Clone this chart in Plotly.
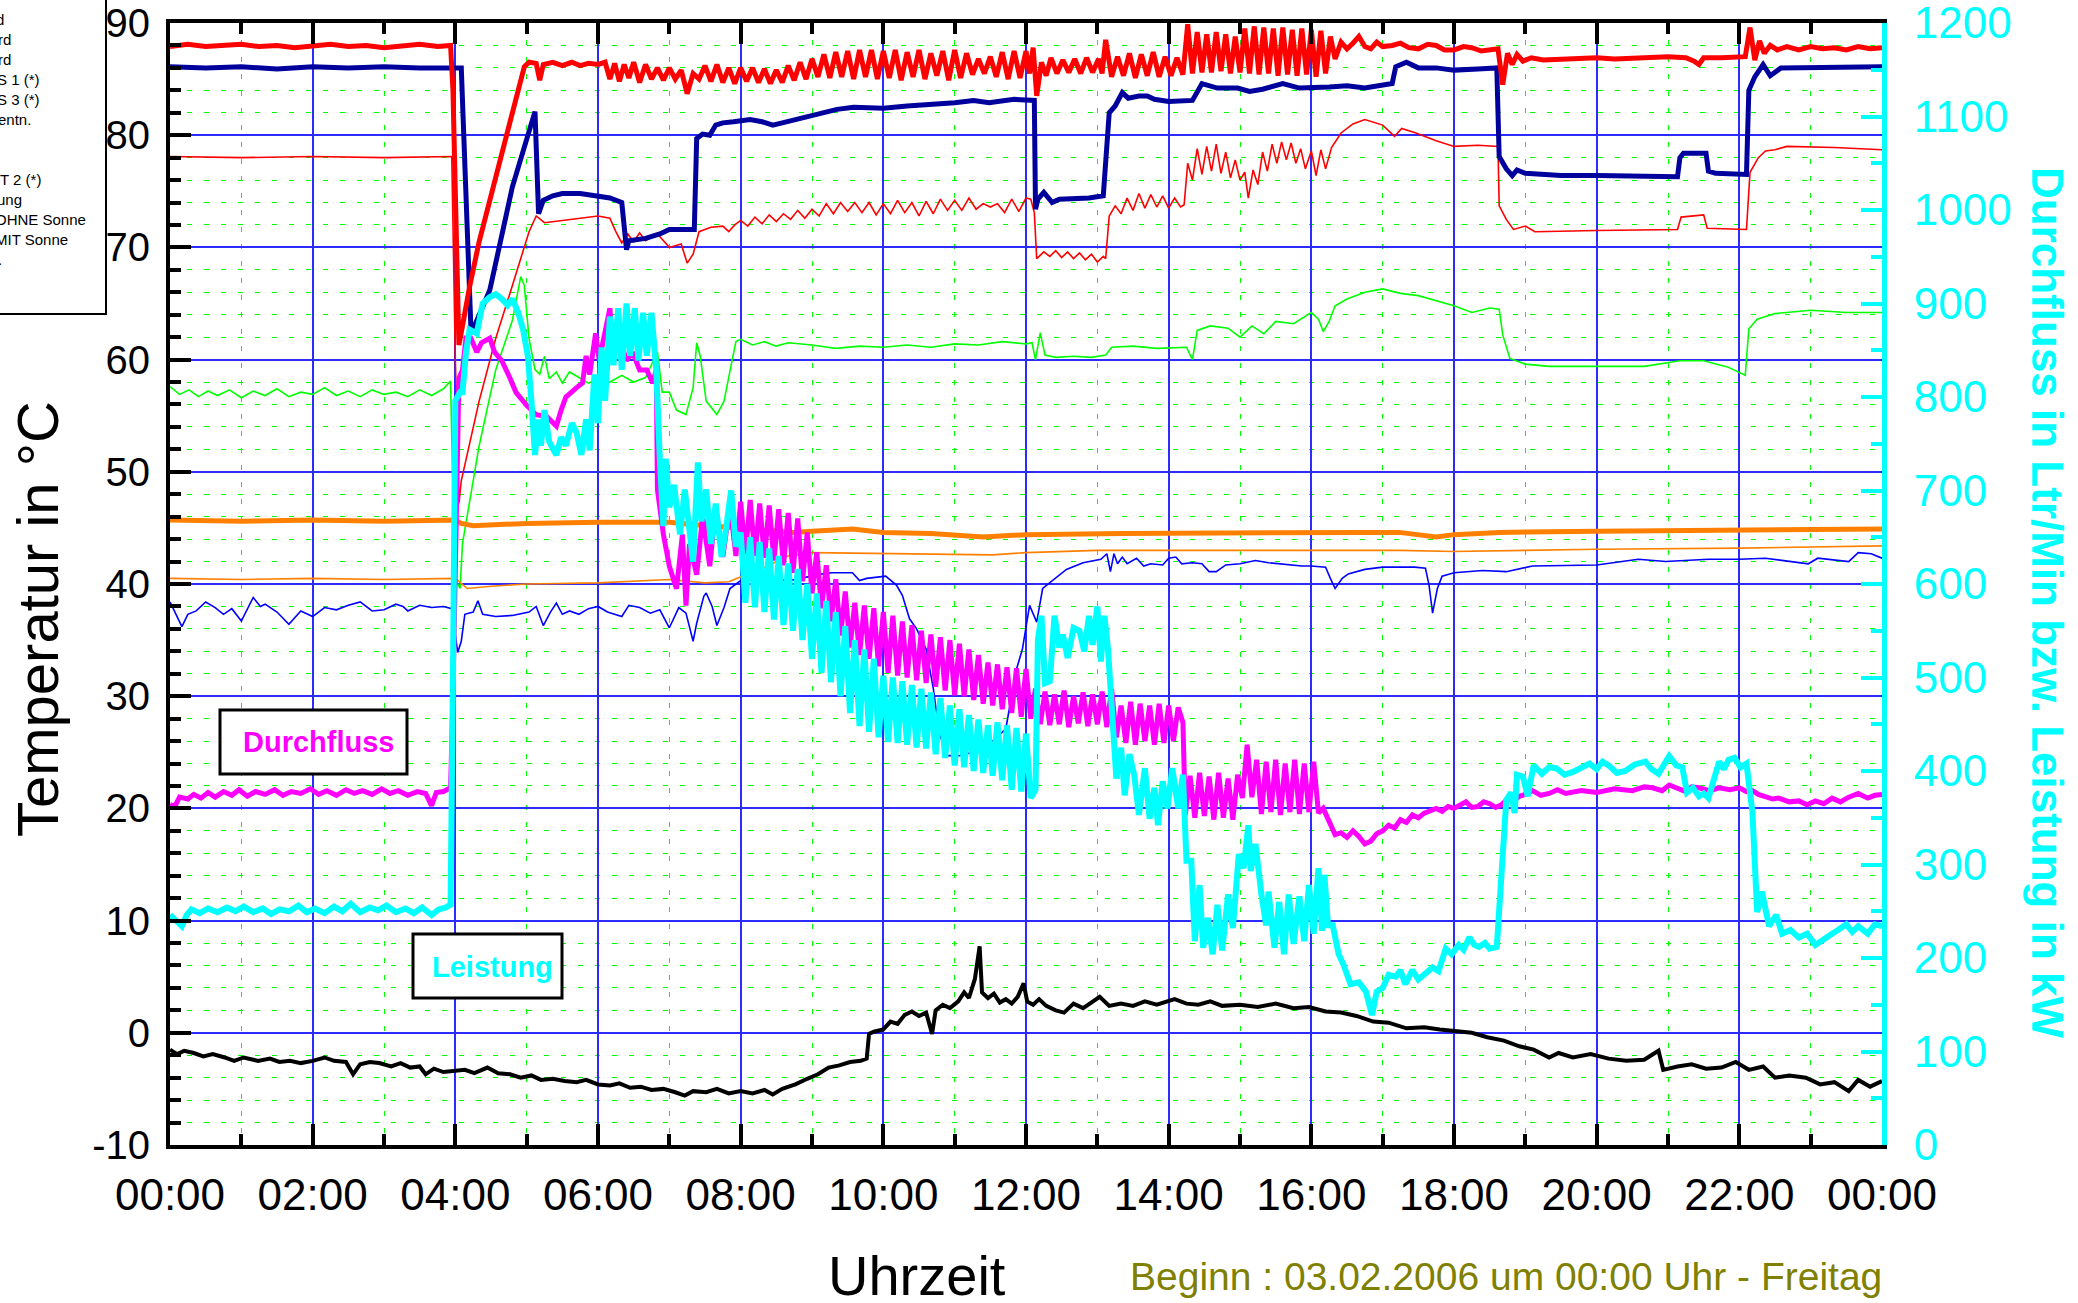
import plotly.graph_objects as go

# ---------------- data (time in minutes since 00:00) ----------------
X_TICKS = [0, 120, 240, 360, 480, 600, 720, 840, 960, 1080, 1200, 1320, 1440]
X_LABELS = ["00:00", "02:00", "04:00", "06:00", "08:00", "10:00", "12:00",
            "14:00", "16:00", "18:00", "20:00", "22:00", "00:00"]
X_MINOR = [60, 180, 300, 420, 540, 660, 780, 900, 1020, 1140, 1260, 1380]
Y_TICKS = [-10, 0, 10, 20, 30, 40, 50, 60, 70, 80, 90]
Y_LABELS = ["-10", "0", "10", "20", "30", "40", "50", "60", "70", "80", "90"]

# thick red (left axis, degC)
RED_THICK = [(0,87.9),(15,88.1),(30,87.9),(45,88.0),(60,88.1),(75,87.9),(90,88.0),(105,87.8),(120,87.9),(135,88.1),(150,87.9),(165,88.0),(180,87.8),(195,88.0),(210,88.1),(225,87.9),(236,88.0),(238,84.0),(240,74.0),(242,65.0),(243,61.3),(246,63.0),(252,66.5),(260,70.5),(270,74.5),(280,78.5),(290,82.5),(298,86.1),(302,86.5),(308,86.4),(311,84.9),(314,86.3),(322,86.5),(330,86.2),(338,86.5),(345,86.2),(352,86.4),(360,86.3),(366,86.5),(370,85.0),(374,86.4),(378,84.8),(382,86.3),(386,85.1),(390,86.5),(395,84.7),(400,86.3),(405,85.0),(410,86.0),(415,84.9),(420,86.0),(425,85.0),(430,85.8),(435,83.7),(440,85.5),(445,85.0),(450,86.2),(455,84.8),(460,86.3),(465,84.7),(470,86.0),(475,84.6),(480,86.0),(485,84.8),(490,86.0),(495,84.7),(500,85.9),(505,84.6),(510,85.8),(515,84.7),(520,86.2),(525,84.9),(530,86.5),(535,85.0),(540,86.8),(545,85.2),(550,87.2),(555,85.1),(560,87.4),(565,85.2),(570,87.5),(575,85.0),(580,87.6),(585,85.2),(590,87.6),(595,85.0),(600,87.5),(605,85.1),(610,87.6),(615,84.9),(620,87.4),(625,85.2),(630,87.6),(635,85.0),(640,87.3),(645,85.3),(650,87.5),(655,84.9),(660,87.6),(665,85.1),(670,87.3),(675,85.4),(680,86.8),(685,85.5),(690,87.0),(695,85.2),(700,87.4),(705,85.0),(710,87.5),(715,85.1),(720,87.5),(723,85.5),(726,87.8),(729,83.5),(733,86.5),(737,85.3),(741,86.9),(746,85.5),(751,86.7),(756,85.6),(761,86.8),(766,85.5),(771,86.9),(776,85.6),(781,86.8),(784,85.5),(787,88.5),(792,85.2),(797,87.0),(802,85.3),(807,87.3),(812,85.1),(817,87.2),(822,85.3),(827,87.4),(832,85.2),(837,87.0),(842,85.3),(847,86.9),(852,85.4),(856,89.9),(860,85.5),(864,89.2),(868,85.6),(872,89.0),(876,85.6),(880,89.2),(884,85.7),(888,89.0),(892,85.5),(896,88.8),(900,85.6),(904,89.5),(908,85.5),(912,89.7),(916,85.4),(920,89.6),(924,85.5),(928,89.5),(932,85.3),(936,89.6),(940,85.4),(944,89.4),(948,85.3),(952,89.5),(956,85.4),(960,89.4),(964,85.2),(968,89.3),(972,85.5),(976,88.8),(980,86.8),(985,88.3),(990,87.7),(995,88.2),(1000,88.8),(1005,87.9),(1010,87.7),(1015,88.3),(1020,87.9),(1028,88.0),(1035,88.2),(1042,87.8),(1050,87.7),(1058,88.1),(1065,88.0),(1072,87.6),(1080,87.6),(1088,87.9),(1095,87.8),(1103,87.5),(1110,87.6),(1117,87.7),(1121,84.5),(1125,87.3),(1129,86.3),(1133,87.2),(1138,86.6),(1145,86.9),(1155,86.7),(1170,86.8),(1185,86.9),(1200,86.9),(1215,86.8),(1230,86.9),(1245,87.0),(1260,87.0),(1275,86.9),(1282,86.6),(1286,86.3),(1290,86.9),(1305,86.9),(1320,86.9),(1325,87.0),(1329,89.6),(1333,86.7),(1337,88.4),(1341,87.3),(1346,88.0),(1352,87.6),(1360,87.9),(1370,87.6),(1380,87.9),(1390,87.7),(1400,87.8),(1410,87.6),(1420,87.9),(1430,87.7),(1440,87.8)]

# thick dark blue (left axis)
NAVY_THICK = [(0,86.1),(30,86.0),(60,86.1),(90,85.9),(120,86.1),(150,86.0),(180,86.1),(210,86.0),(245,86.0),(248,78.0),(251,70.0),(253,63.1),(255,62.7),(269,66.2),(288,75.4),(307,82.1),(310,73.0),(314,74.2),(322,74.6),(330,74.8),(345,74.8),(360,74.6),(370,74.4),(380,74.0),(384,69.8),(386,70.6),(400,70.8),(412,71.2),(420,71.6),(441,71.6),(443,79.7),(448,80.1),(454,80.0),(459,80.9),(465,81.1),(474,81.2),(488,81.4),(498,81.2),(507,80.9),(515,81.1),(540,81.7),(561,82.3),(575,82.5),(600,82.4),(620,82.6),(641,82.7),(660,82.9),(676,83.1),(689,82.9),(710,83.2),(724,83.2),(727,83.1),(728,73.4),(730,74.3),(735,74.9),(742,74.0),(748,74.3),(759,74.3),(773,74.4),(785,74.6),(787,77.2),(790,82.0),(795,82.6),(801,83.8),(806,83.3),(815,83.5),(822,83.5),(828,83.2),(840,83.0),(849,83.0),(860,83.1),(868,84.6),(881,84.2),(898,84.2),(908,83.9),(919,84.1),(936,84.6),(950,84.2),(960,84.2),(975,84.3),(990,84.4),(1005,84.2),(1028,84.6),(1031,86.1),(1040,86.5),(1050,86.0),(1065,86.0),(1080,85.8),(1100,85.9),(1116,86.0),(1118,78.1),(1124,77.0),(1129,76.4),(1133,76.9),(1140,76.6),(1170,76.4),(1200,76.4),(1240,76.4),(1268,76.3),(1270,78.0),(1273,78.4),(1292,78.4),(1294,76.8),(1300,76.6),(1326,76.5),(1328,84.0),(1333,85.2),(1340,86.3),(1346,85.3),(1355,86.0),(1380,86.0),(1410,86.0),(1440,86.1)]

# thin red (left axis)
RED_THIN = [(0,78.1),(60,78.0),(120,78.1),(180,78.0),(237,78.1),(240,60.0),(243,47.2),(245,49.2),(260,56.3),(274,61.9),(288,66.6),(302,71.4),(308,72.8),(315,72.2),(330,72.4),(345,72.6),(360,72.8),(370,72.6),(375,71.4),(380,70.4),(385,71.2),(390,70.5),(395,71.3),(400,70.6),(410,71.2),(420,70.0),(430,70.3),(435,68.6),(440,69.4),(445,71.4),(455,71.8),(465,71.9),(470,71.4),(475,72.0),(480,72.4),(486,71.9),(492,72.7),(498,72.1),(504,72.9),(510,72.3),(516,73.0),(522,72.5),(528,73.3),(534,72.6),(540,73.4),(546,72.8),(552,73.9),(558,73.0),(564,74.0),(570,73.2),(576,74.0),(582,73.1),(588,74.0),(594,72.9),(600,73.9),(606,73.0),(612,74.2),(618,73.1),(624,74.0),(630,72.8),(636,74.1),(642,73.0),(648,74.3),(654,73.3),(660,74.2),(666,73.3),(672,74.4),(678,73.4),(684,73.9),(690,73.6),(696,73.9),(702,73.1),(708,74.3),(714,73.2),(720,74.4),(724,74.3),(727,73.1),(729,69.0),(735,69.6),(740,69.2),(745,69.7),(750,69.1),(755,69.6),(760,69.0),(765,69.5),(770,68.9),(775,69.4),(780,68.7),(785,69.2),(787,69.0),(790,72.8),(795,73.7),(800,73.0),(805,74.4),(810,73.3),(815,74.8),(820,73.5),(825,74.7),(830,73.6),(835,74.6),(840,73.5),(845,74.4),(850,73.6),(853,73.8),(856,77.5),(860,76.0),(864,78.8),(868,76.5),(872,79.0),(876,76.8),(880,79.2),(884,76.6),(888,78.5),(892,76.2),(896,77.8),(900,76.0),(904,76.7),(907,74.4),(911,76.9),(915,75.6),(919,78.5),(923,76.8),(927,79.2),(931,77.5),(935,79.4),(939,77.8),(943,79.3),(947,77.5),(951,78.8),(955,77.0),(960,78.6),(964,76.4),(968,78.7),(972,77.0),(977,78.9),(985,80.2),(995,81.0),(1005,81.4),(1020,80.9),(1030,79.9),(1036,80.6),(1048,80.2),(1065,79.5),(1080,79.0),(1100,79.1),(1117,79.0),(1118,73.7),(1124,72.5),(1130,71.6),(1140,71.9),(1148,71.4),(1200,71.5),(1260,71.6),(1268,71.6),(1271,72.7),(1290,72.9),(1293,71.7),(1326,71.6),(1329,76.7),(1336,78.0),(1342,78.6),(1350,78.7),(1360,79.0),(1400,78.9),(1440,78.7)]

# thin green (left axis)
GREEN_THIN = [(0,57.6),(8,56.9),(16,57.3),(24,56.7),(32,57.2),(40,56.8),(50,57.3),(60,56.6),(70,57.2),(80,56.8),(90,57.4),(100,56.7),(110,57.1),(120,56.9),(130,57.5),(140,56.8),(150,57.2),(160,56.7),(170,57.3),(180,56.9),(190,57.1),(200,56.7),(210,57.3),(220,56.8),(230,57.4),(236,58.1),(238,48.0),(240,40.4),(244,39.6),(246,43.6),(260,52.3),(274,59.1),(288,63.5),(295,67.4),(298,66.6),(302,61.9),(307,59.1),(311,58.7),(315,60.3),(319,58.3),(325,58.9),(330,57.9),(336,58.9),(344,58.4),(352,57.9),(360,58.3),(370,58.0),(380,58.6),(390,58.0),(400,58.4),(410,60.7),(414,57.1),(420,57.1),(426,55.5),(434,55.1),(440,57.5),(443,61.5),(446,60.3),(451,56.3),(460,55.1),(466,56.3),(472,59.5),(476,61.6),(480,61.8),(490,61.3),(500,61.6),(510,61.2),(520,61.5),(540,61.3),(560,61.0),(580,61.2),(600,61.1),(620,61.3),(640,61.1),(660,61.4),(680,61.3),(700,61.6),(720,61.4),(725,61.5),(728,60.0),(732,62.4),(736,60.4),(745,60.2),(760,60.3),(775,60.2),(787,60.4),(792,61.1),(810,61.2),(830,61.0),(855,61.1),(860,60.0),(864,62.6),(875,63.0),(890,62.8),(900,62.0),(910,63.0),(920,62.3),(930,63.4),(945,63.2),(960,64.2),(966,63.6),(970,62.5),(975,63.4),(980,64.8),(990,65.4),(1005,66.0),(1020,66.3),(1035,65.9),(1050,65.7),(1080,64.8),(1095,64.2),(1110,64.6),(1118,64.5),(1121,62.2),(1127,60.1),(1140,59.6),(1160,59.4),(1200,59.4),(1240,59.4),(1270,59.9),(1290,59.9),(1310,59.35),(1325,58.6),(1328,62.75),(1335,63.6),(1350,64.1),(1380,64.4),(1410,64.2),(1440,64.2)]

# thick orange (left axis)
ORANGE_THICK = [(0,45.7),(60,45.6),(120,45.7),(180,45.6),(240,45.7),(245,45.4),(255,45.2),(300,45.4),(360,45.5),(420,45.5),(440,45.3),(500,44.8),(524,44.6),(540,44.7),(574,44.9),(600,44.6),(640,44.5),(684,44.2),(720,44.4),(800,44.5),(900,44.6),(1000,44.6),(1034,44.6),(1065,44.2),(1080,44.4),(1118,44.6),(1200,44.7),(1320,44.8),(1380,44.8),(1440,44.9)]

# thin orange (left axis)
ORANGE_THIN = [(0,40.5),(60,40.4),(120,40.5),(180,40.4),(240,40.5),(250,39.6),(270,39.8),(300,40.0),(360,40.1),(420,40.4),(450,40.1),(470,40.2),(500,41.5),(520,42.5),(540,42.8),(600,42.7),(692,42.6),(720,42.8),(780,43.0),(900,43.0),(1034,43.0),(1080,42.9),(1200,43.1),(1320,43.2),(1440,43.4)]

# thin blue (left axis)
BLUE_THIN = [(0,38.4),(10,36.2),(15,37.3),(22,37.6),(30,38.4),(38,37.9),(45,37.3),(52,37.8),(60,36.7),(70,38.8),(76,38.0),(80,38.2),(90,37.5),(100,36.4),(110,37.6),(120,37.1),(130,37.9),(140,37.7),(150,38.1),(160,38.4),(170,37.6),(180,37.7),(190,38.2),(196,38.0),(200,37.6),(210,38.1),(220,37.9),(230,38.0),(237,37.8),(242,33.9),(245,34.9),(248,37.3),(255,37.5),(259,38.5),(263,37.3),(274,37.1),(288,37.2),(302,37.5),(308,38.0),(314,36.3),(320,37.5),(325,38.3),(330,37.3),(336,37.6),(344,37.3),(352,37.8),(360,38.0),(368,37.5),(380,37.1),(386,38.1),(395,37.9),(404,37.4),(412,37.7),(420,36.1),(428,37.9),(434,37.4),(440,34.9),(443,36.5),(449,38.9),(451,39.2),(456,38.0),(460,36.3),(466,37.9),(471,39.6),(480,40.3),(500,40.5),(521,40.3),(549,40.9),(557,41.0),(574,41.0),(580,40.3),(586,40.5),(602,40.7),(611,39.9),(616,39.0),(622,36.9),(628,36.0),(636,34.2),(642,30.7),(647,26.8),(653,24.7),(664,24.7),(675,25.0),(686,26.2),(692,26.0),(703,27.1),(712,32.4),(717,34.2),(723,38.1),(729,36.6),(734,39.6),(743,40.4),(754,41.3),(768,41.9),(783,42.2),(788,42.7),(791,41.1),(794,42.7),(797,41.8),(801,42.4),(805,41.8),(813,42.3),(819,41.6),(825,41.8),(835,41.7),(840,42.3),(846,42.4),(851,41.8),(860,41.9),(868,41.8),(874,41.1),(880,41.1),(888,41.7),(900,41.8),(913,42.1),(924,41.9),(935,41.8),(952,41.6),(960,41.6),(972,41.5),(976,40.5),(980,39.6),(986,40.5),(991,40.9),(1005,41.3),(1020,41.5),(1047,41.5),(1056,41.4),(1059,39.9),(1062,37.4),(1066,39.6),(1070,40.7),(1080,41.0),(1104,41.2),(1124,41.1),(1146,41.6),(1200,41.7),(1235,42.2),(1258,42.0),(1294,42.2),(1320,42.2),(1342,42.3),(1378,41.8),(1386,42.3),(1412,42.0),(1420,42.8),(1431,42.7),(1440,42.3)]

# magenta, Durchfluss (right axis, Ltr/Min)
DURCHFLUSS = [(0,364),(4,362),(8,372),(15,370),(20,375),(26,371),(32,377),(38,372),(45,378),(52,374),(58,380),(65,373),(72,378),(80,375),(88,380),(95,374),(102,378),(110,376),(118,381),(125,375),(132,379),(140,374),(148,380),(155,376),(162,379),(170,375),(178,381),(185,376),(192,379),(200,374),(208,378),(215,376),(220,363),(224,377),(230,378),(236,382),(238,480),(241,700),(243,820),(246,829),(249,863),(253,863),(258,848),(262,858),(269,863),(273,848),(279,839),(286,820),(291,805),(300,791),(308,781),(317,779),(325,769),(329,786),(333,800),(342,810),(347,815),(350,844),(353,824),(358,868),(361,839),(370,895),(373,844),(378,863),(384,839),(389,848),(395,829),(401,829),(406,815),(409,829),(410,701),(415,653),(420,619),(426,595),(431,653),(434,577),(437,643),(443,610),(448,672),(454,619),(459,682),(465,629),(471,685),(476,630),(480,688),(484,632),(488,690),(492,630),(496,686),(500,628),(504,684),(508,625),(512,680),(516,620),(520,676),(524,612),(528,670),(532,603),(536,655),(540,590),(544,634),(548,574),(552,620),(556,560),(560,605),(564,545),(568,592),(572,532),(576,580),(580,524),(584,577),(588,520),(592,574),(596,512),(600,570),(604,505),(608,566),(612,502),(616,560),(620,500),(624,556),(628,497),(632,550),(636,494),(640,546),(644,490),(648,543),(652,486),(656,540),(660,481),(664,536),(668,480),(672,530),(676,476),(680,524),(684,472),(688,516),(692,470),(696,514),(700,466),(704,511),(708,462),(712,510),(716,458),(720,509),(724,456),(728,488),(732,450),(736,485),(740,449),(744,482),(748,450),(752,486),(756,447),(760,480),(764,451),(768,484),(772,448),(776,482),(780,450),(784,485),(788,447),(792,488),(796,436),(800,470),(804,430),(808,474),(812,428),(816,472),(820,432),(824,470),(828,428),(832,472),(836,430),(840,470),(844,432),(848,468),(852,452),(854,353),(858,395),(862,350),(866,398),(870,352),(874,394),(878,348),(882,398),(886,350),(890,392),(894,348),(898,396),(902,371),(906,428),(910,372),(914,412),(918,354),(922,410),(926,356),(930,412),(934,353),(938,408),(942,356),(946,412),(950,354),(954,408),(958,356),(962,410),(966,355),(970,360),(975,346),(980,332),(985,334),(990,329),(995,336),(1000,330),(1005,322),(1010,325),(1015,333),(1020,336),(1025,342),(1030,339),(1035,348),(1040,345),(1045,353),(1050,350),(1055,355),(1060,357),(1065,360),(1070,357),(1075,362),(1080,360),(1085,364),(1090,367),(1095,361),(1100,362),(1105,367),(1110,365),(1115,361),(1120,364),(1126,371),(1130,368),(1135,373),(1140,375),(1146,379),(1153,374),(1160,376),(1167,380),(1174,376),(1187,379),(1200,377),(1215,381),(1230,379),(1240,383),(1247,382),(1255,379),(1261,385),(1268,381),(1275,378),(1280,383),(1286,382),(1295,379),(1303,382),(1312,380),(1320,382),(1326,378),(1331,379),(1336,375),(1342,373),(1348,370),(1353,371),(1362,367),(1370,368),(1377,364),(1384,368),(1391,365),(1398,371),(1405,367),(1412,372),(1420,376),(1428,371),(1434,374),(1440,375)]

# cyan, Leistung (right axis, kW)
LEISTUNG = [(0,246),(5,240),(10,234),(14,246),(18,252),(25,248),(32,253),(40,249),(48,254),(55,250),(62,255),(70,249),(78,253),(85,247),(92,252),(100,250),(108,256),(115,249),(122,253),(130,248),(138,255),(145,250),(152,258),(160,249),(168,254),(175,251),(182,256),(190,249),(198,253),(205,248),(212,254),(220,246),(226,252),(232,254),(236,257),(238,500),(240,796),(244,805),(246,805),(249,848),(252,872),(258,868),(260,882),(263,900),(269,907),(274,910),(279,905),(284,898),(288,905),(293,890),(297,872),(301,844),(304,796),(307,738),(310,776),(312,748),(315,786),(319,752),(325,738),(329,757),(333,748),(338,772),(342,762),(346,738),(350,776),(353,743),(357,824),(360,772),(363,853),(366,796),(370,886),(373,834),(377,895),(380,829),(384,900),(387,844),(391,895),(394,839),(398,890),(401,844),(405,890),(409,829),(412,734),(415,662),(417,734),(420,682),(424,706),(429,653),(433,701),(436,662),(440,624),(444,730),(447,667),(451,701),(455,643),(459,686),(464,629),(468,662),(472,700),(476,640),(480,655),(484,580),(488,650),(492,575),(496,645),(500,570),(504,638),(508,562),(512,630),(516,556),(520,622),(524,550),(528,616),(532,540),(536,600),(540,520),(544,590),(548,505),(552,582),(556,495),(560,570),(564,480),(568,555),(572,462),(576,540),(580,448),(584,530),(588,442),(592,520),(596,436),(600,502),(604,431),(608,500),(612,430),(616,496),(620,428),(624,492),(628,425),(632,488),(636,424),(640,484),(644,418),(648,478),(652,414),(656,470),(660,406),(664,466),(668,404),(672,460),(676,400),(680,455),(684,398),(688,449),(692,395),(696,452),(700,390),(704,449),(708,380),(712,446),(716,378),(720,440),(724,371),(728,380),(730,540),(733,566),(736,494),(740,496),(744,566),(748,532),(751,546),(755,521),(760,553),(765,550),(769,528),(773,566),(776,535),(780,576),(783,517),(786,566),(789,530),(793,449),(796,392),(800,425),(803,374),(807,418),(811,396),(815,353),(820,403),(824,349),(828,382),(831,342),(835,389),(839,360),(843,403),(848,360),(852,396),(855,304),(859,304),(862,218),(866,278),(869,211),(873,243),(877,204),(881,257),(885,208),(890,268),(894,232),(899,311),(903,296),(907,342),(909,293),(913,322),(918,268),(922,235),(924,271),(929,211),(933,260),(937,204),(941,268),(945,215),(950,266),(954,218),(958,278),(962,226),(966,296),(969,229),(971,289),(974,235),(978,235),(983,204),(987,193),(993,172),(1000,174),(1006,164),(1011,139),(1015,164),(1020,168),(1025,182),(1031,180),(1035,187),(1039,172),(1045,187),(1050,177),(1056,183),(1062,190),(1067,186),(1073,210),(1078,204),(1084,214),(1088,209),(1093,222),(1097,214),(1101,212),(1106,216),(1110,210),(1116,212),(1119,266),(1124,369),(1128,377),(1131,355),(1133,396),(1138,394),(1142,373),(1147,406),(1154,397),(1160,404),(1166,403),(1173,396),(1180,399),(1187,404),(1194,408),(1200,402),(1205,410),(1210,406),(1217,398),(1224,400),(1232,407),(1241,410),(1246,402),(1252,397),(1257,409),(1261,416),(1267,406),(1272,404),(1276,377),(1281,382),(1286,373),(1290,376),(1294,371),(1299,390),(1303,410),(1307,402),(1311,412),(1316,414),(1321,404),(1326,408),(1331,356),(1335,249),(1339,271),(1345,234),(1351,246),(1356,226),(1363,230),(1370,222),(1377,226),(1384,214),(1392,222),(1398,226),(1403,230),(1410,236),(1415,228),(1420,234),(1428,226),(1434,236),(1440,234)]

# black, outdoor temperature (left axis)
AUSSEN = [(0,-1.5),(6,-1.9),(12,-1.6),(20,-1.8),(28,-2.1),(36,-1.9),(46,-2.2),(54,-2.5),(62,-2.2),(74,-2.5),(84,-2.3),(92,-2.6),(101,-2.5),(110,-2.7),(120,-2.5),(130,-2.2),(138,-2.5),(148,-2.6),(154,-3.7),(160,-2.8),(168,-2.6),(176,-2.7),(186,-3.0),(194,-2.7),(202,-3.1),(210,-3.0),(215,-3.7),(222,-3.2),(230,-3.5),(240,-3.4),(248,-3.3),(256,-3.6),(267,-3.1),(276,-3.6),(286,-3.7),(295,-4.0),(304,-3.8),(312,-4.2),(322,-4.1),(332,-4.3),(342,-4.4),(350,-4.2),(360,-4.6),(370,-4.7),(378,-4.5),(387,-4.9),(396,-4.8),(405,-5.1),(415,-5.0),(425,-5.3),(433,-5.6),(440,-5.2),(451,-5.3),(460,-5.0),(470,-5.4),(480,-5.2),(490,-5.4),(500,-5.1),(507,-5.5),(515,-5.0),(526,-4.6),(536,-4.1),(545,-3.7),(554,-3.1),(563,-2.9),(572,-2.6),(581,-2.5),(586,-2.3),(588,-0.1),(592,0.1),(600,0.3),(606,1.0),(612,0.8),(618,1.6),(624,1.9),(630,1.5),(636,1.8),(641,-0.1),(644,2.0),(650,2.5),(656,2.2),(663,2.8),(668,3.6),(672,3.1),(677,4.8),(681,7.7),(683,3.6),(688,3.1),(693,3.5),(698,2.7),(703,3.0),(708,2.6),(713,3.2),(718,4.4),(721,2.8),(726,2.5),(731,3.0),(737,2.4),(745,2.0),(752,1.8),(760,2.6),(768,2.2),(776,2.8),(782,3.2),(790,2.4),(800,2.6),(810,2.4),(820,2.8),(830,2.5),(837,2.7),(845,3.0),(855,2.6),(865,2.5),(875,2.8),(885,2.4),(900,2.5),(915,2.3),(930,2.6),(945,2.2),(958,2.3),(972,1.9),(985,1.8),(998,1.5),(1012,1.0),(1025,0.9),(1040,0.4),(1055,0.5),(1068,0.3),(1082,0.1),(1095,0.0),(1108,-0.4),(1122,-0.7),(1135,-1.2),(1147,-1.5),(1160,-2.2),(1168,-1.8),(1180,-2.2),(1195,-1.9),(1210,-2.3),(1225,-2.5),(1240,-2.4),(1252,-1.6),(1256,-3.3),(1268,-3.0),(1280,-2.8),(1292,-3.2),(1305,-3.1),(1317,-2.6),(1328,-3.3),(1340,-3.0),(1350,-4.0),(1362,-3.8),(1376,-4.0),(1388,-4.6),(1400,-4.4),(1412,-5.2),(1420,-4.2),(1430,-4.8),(1440,-4.3)]

LEGEND_FRAGMENTS = ["d", "rd", "rd", "S 1 (*)", "S 3 (*)", "entn.", "", "",
                    "T 2 (*)", "ung", "OHNE Sonne", "MIT Sonne", "."]
LEGEND_RIGHT_PX = [6, 13, 13, 42, 42, 33, 0, 0, 43, 24, 88, 70, 4]

FONT = "Arial, Liberation Sans, sans-serif"

# ---------------- geometry (pixels of the 2078x1303 page) ----------------
W, H = 2078, 1303
L, R, T, B = 170, 196, 23, 158
PW, PH = W - L - R, H - T - B


def px(x):
    return (x - L) / PW


def py(y):
    return (H - B - y) / PH


fig = go.Figure()


def add(series, color, width, axis="y"):
    t = [p[0] for p in series]
    v = [p[1] for p in series]
    fig.add_trace(go.Scatter(x=t, y=v, mode="lines", yaxis=axis,
                             line=dict(color=color, width=width),
                             showlegend=False, hoverinfo="skip"))


add(GREEN_THIN, "#00ff00", 1.6)
add(ORANGE_THIN, "#ff8000", 1.6)
add(BLUE_THIN, "#0000ff", 1.6)
add(RED_THIN, "#ff0000", 1.6)
add(ORANGE_THICK, "#ff8000", 5)
add(DURCHFLUSS, "#ff00ff", 5, "y2")
add(LEISTUNG, "#00ffff", 6, "y2")
add(NAVY_THICK, "#00009c", 5)
add(RED_THICK, "#ff0000", 5)
add(AUSSEN, "#000000", 4)

shapes = []
annotations = []


def note(text, x, y, size, color, xanchor="center", angle=0):
    annotations.append(dict(text=text, xref="paper", yref="paper",
                            x=x, y=y, xanchor=xanchor, yanchor="middle",
                            textangle=angle, showarrow=False,
                            font=dict(family=FONT, size=size, color=color)))


# annotation boxes
for (x0, x1, y0, y1) in [(220, 407, 710, 774), (413, 562, 934, 998)]:
    shapes.append(dict(type="rect", xref="paper", yref="paper",
                       x0=px(x0), x1=px(x1), y0=py(y1), y1=py(y0),
                       line=dict(color="black", width=3), fillcolor="white",
                       layer="above"))
note("<b>Durchfluss</b>", px(318), py(742), 29, "#ff00ff")
note("<b>Leistung</b>", px(492), py(967), 29, "#00ffff")

# cut-off legend box top-left
shapes.append(dict(type="rect", xref="paper", yref="paper",
                   x0=px(-20), x1=px(106), y0=py(314), y1=py(-20),
                   line=dict(color="black", width=2), fillcolor="white",
                   layer="above"))
for i, (txt, xr) in enumerate(zip(LEGEND_FRAGMENTS, LEGEND_RIGHT_PX)):
    if txt:
        note(txt, px(xr), py(20 + i * 20), 15, "black", xanchor="right")

# titles
note("Temperatur in °C", px(37), py(619), 58, "black", angle=-90)
note("<b>Durchfluss in Ltr/Min bzw. Leistung in kW</b>", px(2047), py(603),
     44, "#00ffff", angle=90)
note("Uhrzeit", px(917), py(1275), 56, "black")
note("Beginn : 03.02.2006 um 00:00 Uhr - Freitag", px(1884), py(1276), 39,
     "#808000", xanchor="right")

GRID_BLUE = "#2b2bff"
GRID_GREEN = "#00ff00"
GDASH = "5px,12px"

fig.update_layout(
    width=W, height=H,
    margin=dict(l=L, r=R, t=T, b=B, pad=0, autoexpand=False),
    paper_bgcolor="white", plot_bgcolor="white",
    showlegend=False,
    shapes=shapes, annotations=annotations,
    xaxis=dict(range=[0, 1440], tickmode="array", tickvals=X_TICKS,
               ticktext=X_LABELS, ticks="inside", ticklen=21, tickwidth=4,
               tickcolor="black", showline=True, linecolor="black",
               linewidth=4, mirror="ticks", showgrid=True,
               gridcolor=GRID_BLUE, gridwidth=1.5, zeroline=False,
               automargin=False, ticklabelstandoff=8,
               ticklabeloverflow="allow",
               tickfont=dict(family=FONT, size=44, color="black"),
               minor=dict(tickmode="array", tickvals=X_MINOR, ticks="inside",
                          ticklen=11, tickwidth=4, tickcolor="black",
                          showgrid=True, gridcolor=GRID_GREEN,
                          griddash=GDASH, gridwidth=1.3)),
    yaxis=dict(range=[-10, 90], tickmode="array", tickvals=Y_TICKS,
               ticktext=Y_LABELS, ticks="inside",
               ticklen=21, tickwidth=4, tickcolor="black", showline=True,
               linecolor="black", linewidth=4, mirror=False, showgrid=True,
               gridcolor=GRID_BLUE, gridwidth=1.5, zeroline=False,
               automargin=False, ticklabelstandoff=8,
               ticklabeloverflow="allow",
               tickfont=dict(family=FONT, size=40, color="black"),
               minor=dict(tickmode="linear", dtick=2, tick0=0, ticks="inside",
                          ticklen=11, tickwidth=4, tickcolor="black",
                          showgrid=True, gridcolor=GRID_GREEN,
                          griddash=GDASH, gridwidth=1.3)),
    yaxis2=dict(range=[0, 1200], tick0=0, dtick=100, overlaying="y",
                side="right", ticks="inside", ticklen=21, tickwidth=4,
                tickcolor="#00ffff", showline=True, linecolor="#00ffff",
                linewidth=5, showgrid=False, zeroline=False,
                automargin=False, ticklabelstandoff=18,
                ticklabeloverflow="allow",
                tickfont=dict(family=FONT, size=44, color="#00ffff"),
                minor=dict(dtick=50, tick0=0, ticks="inside", ticklen=11,
                           tickwidth=4, tickcolor="#00ffff", showgrid=False)),
)

fig.write_html("out.html",
               config={"displayModeBar": False},
               post_script="document.body.style.margin='0px';"
                           "document.body.style.overflow='hidden';")
